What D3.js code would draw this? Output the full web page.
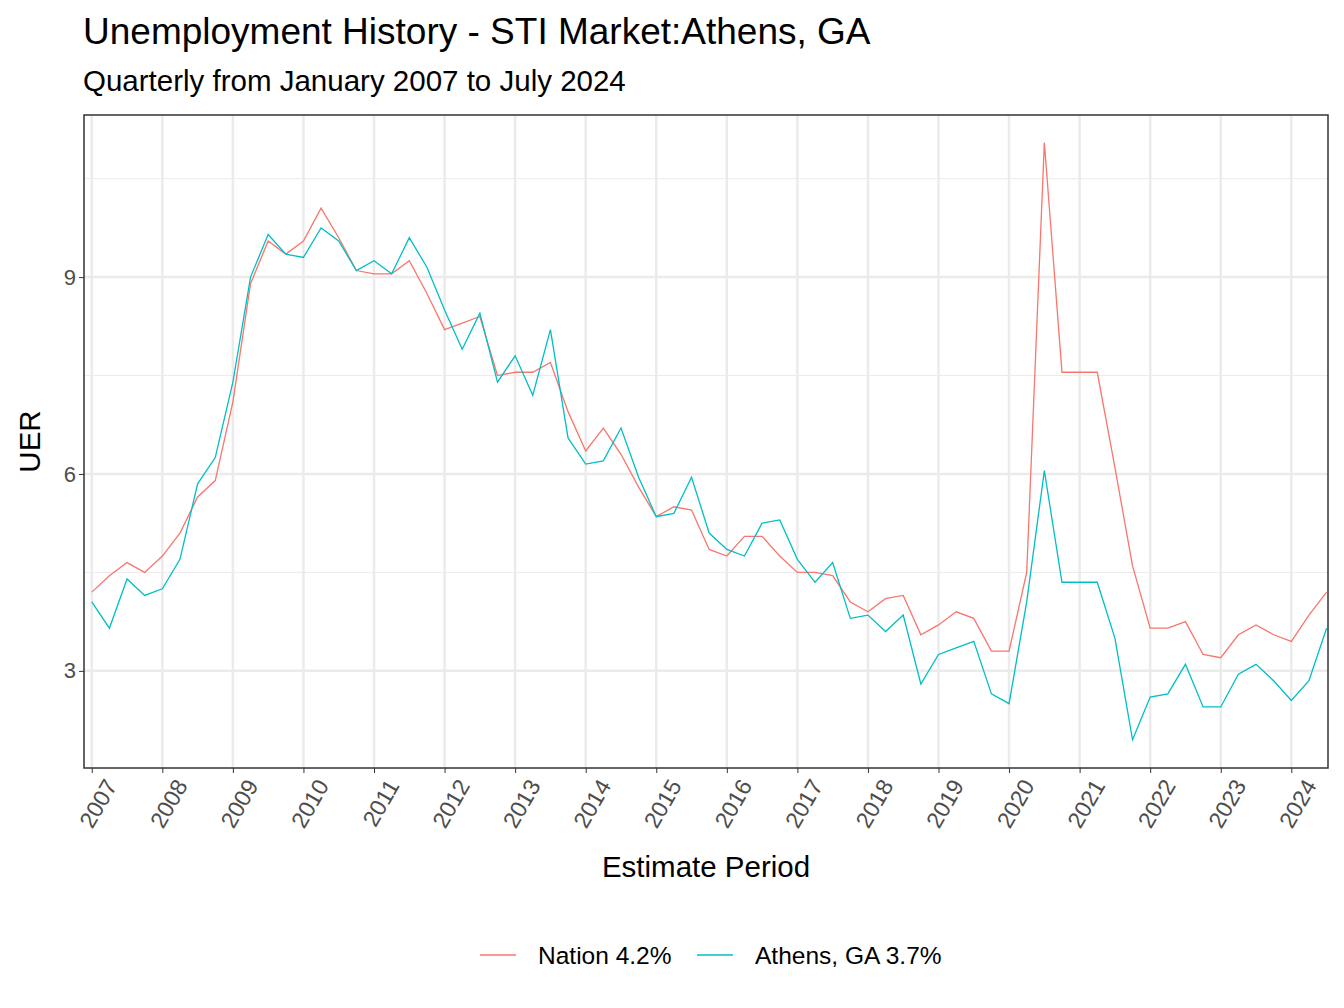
<!DOCTYPE html>
<html><head><meta charset="utf-8">
<script src="https://cdn.jsdelivr.net/npm/d3@7"></script>
<style>body{margin:0;background:#fff;font-family:Arial,"Liberation Sans",sans-serif;}</style>
</head><body><div id="chart"></div>
<script>
// Quarterly unemployment rates, Jan 2007 .. Jul 2024
const nation = [
  4.2,4.45,4.65,4.5, 4.75,5.1,5.65,5.9, 7.1,8.9,9.55,9.35, 9.55,10.05,9.6,9.1,
  9.05,9.05,9.25,8.75, 8.2,8.3,8.4,7.5, 7.55,7.55,7.7,6.95, 6.35,6.7,6.3,5.8,
  5.35,5.5,5.45,4.85, 4.75,5.05,5.05,4.75, 4.5,4.5,4.45,4.05, 3.9,4.1,4.15,3.55,
  3.7,3.9,3.8,3.3, 3.3,4.5,11.05,7.55, 7.55,7.55,6.1,4.6, 3.65,3.65,3.75,3.25,
  3.2,3.55,3.7,3.55, 3.45,3.85,4.2];
const athens = [
  4.05,3.65,4.4,4.15, 4.25,4.7,5.85,6.25, 7.4,9.0,9.65,9.35, 9.3,9.75,9.55,9.1,
  9.25,9.05,9.6,9.15, 8.5,7.9,8.45,7.4, 7.8,7.2,8.2,6.55, 6.15,6.2,6.7,5.95,
  5.35,5.4,5.95,5.1, 4.85,4.75,5.25,5.3, 4.7,4.35,4.65,3.8, 3.85,3.6,3.85,2.8,
  3.25,3.35,3.45,2.65, 2.5,4.05,6.05,4.35, 4.35,4.35,3.5,1.95, 2.6,2.65,3.1,2.45,
  2.45,2.95,3.1,2.85, 2.55,2.85,3.65];
const seriesNames = ['Nation 4.2%', 'Athens, GA 3.7%'];
const colors = ['#F8766D', '#00BFC4'];
const years = d3.range(2007, 2025);
const yTicks = [3, 6, 9];

const W = 1344, H = 1008;
const margin = {top: 115, right: 16, bottom: 240, left: 84};
const width = W - margin.left - margin.right;
const height = H - margin.top - margin.bottom;

const svg = d3.select('#chart').append('svg').attr('width', W).attr('height', H);

svg.append('text').attr('x', 83).attr('y', 44).style('font-size', '37px').text('Unemployment History - STI Market:Athens, GA');
svg.append('text').attr('x', 83).attr('y', 91).style('font-size', '29.5px').text('Quarterly from January 2007 to July 2024');

const g = svg.append('g').attr('transform', `translate(${margin.left},${margin.top})`);

const x = d3.scaleLinear().domain([2006.89, 2024.52]).range([0, width]);
const y = d3.scaleLinear().domain([1.52, 11.47]).range([height, 0]);
const tx = i => 2007 + i * 0.25;

// grid
g.selectAll('.minor').data([4.5, 7.5, 10.5]).enter().append('line')
  .attr('x1', 0).attr('x2', width).attr('y1', d => y(d)).attr('y2', d => y(d))
  .attr('stroke', '#ebebeb').attr('stroke-width', 1);
g.selectAll('.majy').data(yTicks).enter().append('line')
  .attr('x1', 0).attr('x2', width).attr('y1', d => y(d)).attr('y2', d => y(d))
  .attr('stroke', '#ebebeb').attr('stroke-width', 2.5);
g.selectAll('.majx').data(years).enter().append('line')
  .attr('y1', 0).attr('y2', height).attr('x1', d => x(d)).attr('x2', d => x(d))
  .attr('stroke', '#ebebeb').attr('stroke-width', 2.5);

// lines
const line = d3.line().x((d, i) => x(tx(i))).y(d => y(d));
[nation, athens].forEach((s, k) => {
  g.append('path').datum(s).attr('d', line).attr('fill', 'none')
    .attr('stroke', colors[k]).attr('stroke-width', 1.3);
});

g.append('rect').attr('width', width).attr('height', height)
  .attr('fill', 'none').attr('stroke', '#333').attr('stroke-width', 1.5);

// axes
const xAxis = g.append('g').attr('transform', `translate(0,${height})`)
  .call(d3.axisBottom(x).tickValues(years).tickFormat(d3.format('d')).tickSize(5));
xAxis.select('.domain').remove();
xAxis.selectAll('line').attr('stroke', '#333');
xAxis.selectAll('text').style('font-size', '23px').attr('fill', '#4d4d4d')
  .attr('text-anchor', 'end').attr('dx', '-0.1em').attr('dy', '1em')
  .attr('transform', 'rotate(-60)');

const yAxis = g.append('g').call(d3.axisLeft(y).tickValues(yTicks).tickSize(5));
yAxis.select('.domain').remove();
yAxis.selectAll('line').attr('stroke', '#333');
yAxis.selectAll('text').style('font-size', '22px').attr('fill', '#4d4d4d');

svg.append('text').attr('x', margin.left + width / 2).attr('y', 877)
  .attr('text-anchor', 'middle').style('font-size', '29.5px').text('Estimate Period');
svg.append('text').attr('transform', `translate(40,${margin.top + height / 2}) rotate(-90)`)
  .attr('text-anchor', 'middle').style('font-size', '29.5px').text('UER');

// legend
const legend = svg.append('g').attr('transform', 'translate(480,955)');
const lx = [0, 217];
seriesNames.forEach((n, k) => {
  legend.append('line').attr('x1', lx[k]).attr('x2', lx[k] + 36).attr('stroke', colors[k]).attr('stroke-width', 1.3);
  legend.append('text').attr('x', lx[k] + 58).attr('y', 9).style('font-size', '24.5px').text(n);
});
</script></body></html>
